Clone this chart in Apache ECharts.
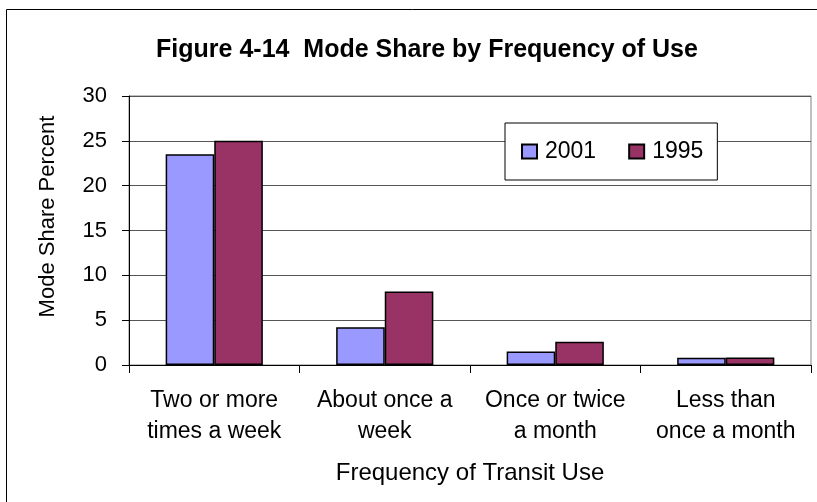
<!DOCTYPE html>
<html>
<head>
<meta charset="utf-8">
<script src="https://cdn.jsdelivr.net/npm/echarts@6/dist/echarts.min.js"></script>
<style>
  html, body { margin: 0; padding: 0; background: #fff; }
  #chart { width: 817px; height: 502px; }
</style>
</head>
<body>
<div id="chart"></div>
<script>
const categories = ['Two or more\ntimes a week', 'About once a\nweek', 'Once or twice\na month', 'Less than\nonce a month']
const share2001 = [23.5, 4.2, 1.5, 0.8]
const share1995 = [25.0, 8.2, 2.6, 0.85]
const yTicks = [0, 5, 10, 15, 20, 25, 30]

const font = 'Arial, "Liberation Sans", sans-serif'
const chart = echarts.init(document.getElementById('chart'))

const option = {
  backgroundColor: '#fff',
  animation: false,
  graphic: [
    {
      type: 'rect',
      left: 4,
      top: 7,
      shape: {width: 900, height: 600},
      style: {fill: 'none', stroke: '#000', lineWidth: 1},
      silent: true,
    },
  ],
  title: {
    text: 'Figure 4-14  Mode Share by Frequency of Use',
    left: 422,
    top: 33,
    textAlign: 'center',
    textStyle: {
      fontFamily: font,
      fontSize: 25,
      fontWeight: 'bold',
      color: '#000',
    },
  },
  legend: {
    data: ['2001', '1995'],
    left: 505,
    top: 123,
    padding: [17, 14, 17, 16],
    itemGap: 32,
    itemWidth: 15,
    itemHeight: 14,
    icon: 'rect',
    backgroundColor: '#fff',
    borderColor: '#000',
    borderWidth: 1,
    borderRadius: 0,
    textStyle: {
      fontFamily: font,
      fontSize: 23,
      color: '#000',
      padding: [0, 0, 0, 3],
    },
  },
  grid: {
    left: 129,
    right: 6,
    top: 96,
    bottom: 137,
    show: true,
    borderColor: '#808080',
    borderWidth: 1,
  },
  xAxis: {
    type: 'category',
    data: categories,
    name: 'Frequency of Transit Use',
    nameLocation: 'middle',
    nameGap: 96,
    nameTextStyle: {fontFamily: font, fontSize: 24, color: '#000'},
    axisLine: {lineStyle: {color: '#000', width: 1}},
    axisTick: {show: true, length: 8, lineStyle: {color: '#000'}},
    axisLabel: {
      interval: 0,
      margin: 20,
      fontFamily: font,
      fontSize: 23,
      lineHeight: 31,
      color: '#000',
    },
  },
  yAxis: {
    type: 'value',
    min: yTicks[0],
    max: yTicks[yTicks.length - 1],
    interval: 5,
    name: 'Mode Share Percent',
    nameLocation: 'middle',
    nameGap: 70,
    nameTextStyle: {fontFamily: font, fontSize: 22, color: '#000', padding: [0, 0, 0, 28]},
    axisLine: {show: true, lineStyle: {color: '#000', width: 1}},
    axisTick: {show: true, length: 7, lineStyle: {color: '#000'}},
    axisLabel: {
      margin: 22,
      fontFamily: font,
      fontSize: 22,
      color: '#000',
    },
    splitLine: {show: true, lineStyle: {color: '#555', width: 1}},
  },
  series: [
    {
      name: '2001',
      type: 'bar',
      data: share2001,
      barGap: '0%',
      barCategoryGap: '43%',
      itemStyle: {color: '#9999FF', borderColor: '#000', borderWidth: 1.5},
    },
    {
      name: '1995',
      type: 'bar',
      data: share1995,
      itemStyle: {color: '#993366', borderColor: '#000', borderWidth: 1.5},
    },
  ],
}

chart.setOption(option)
</script>
</body>
</html>
